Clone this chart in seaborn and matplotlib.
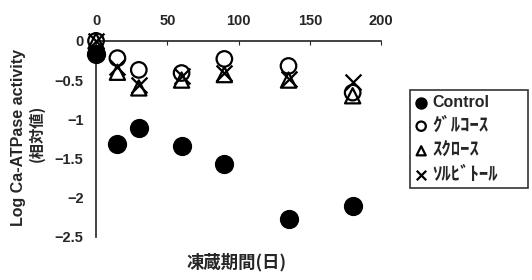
import matplotlib
matplotlib.use("Agg")
import matplotlib.pyplot as plt
import seaborn as sns

days = [0, 15, 30, 60, 90, 135, 180]
control = [-0.17, -1.31, -1.11, -1.34, -1.57, -2.27, -2.10]
glucose = [0, -0.22, -0.37, -0.41, -0.23, -0.32, -0.66]
sucrose = [0, -0.40, -0.60, -0.50, -0.43, -0.50, -0.70]
sorbitol = [0, -0.33, -0.56, -0.45, -0.41, -0.48, -0.53]
labels = ["Control", "ｸﾞﾙｺｰｽ", "ｽｸﾛｰｽ", "ｿﾙﾋﾞﾄｰﾙ"]
xticks = [0, 50, 100, 150, 200]
yticks = [0, -0.5, -1, -1.5, -2, -2.5]
ytick_labels = ["0", "−0.5", "−1", "−1.5", "−2", "−2.5"]

sns.set_style("white")
plt.rcParams["font.family"] = ["Liberation Sans", "Noto Sans CJK JP"]
plt.rcParams["font.weight"] = "bold"

fig = plt.figure(figsize=(5.32, 2.80), dpi=100)
ax = fig.add_axes([0.1805, 0.154, 0.536, 0.700])

series = [control, glucose, sucrose, sorbitol]
markers = ["o", "o", "^", "x"]
sizes = [150, 125, 120, 130]
faces = ["black", "none", "none", "black"]
for vals, lab, m, s, fc in zip(series, labels, markers, sizes, faces):
    sns.scatterplot(x=days, y=vals, marker=m, s=s, color="black",
                    facecolor=fc, edgecolor="black", linewidth=1.6,
                    clip_on=False, zorder=3, label=lab, ax=ax)

ax.set_xlim(0, 200)
ax.set_ylim(-2.5, 0)
ax.set_xticks(xticks)
ax.set_yticks(yticks)
ax.set_yticklabels(ytick_labels)
ax.xaxis.tick_top()
ax.tick_params(axis="x", direction="in", length=3, pad=9, labelsize=10.5)
ax.tick_params(axis="y", direction="in", length=3, pad=9, labelsize=10.5)
ax.spines["right"].set_visible(False)
ax.spines["bottom"].set_visible(False)
for sp in ["left", "top"]:
    ax.spines[sp].set_linewidth(1.2)
    ax.spines[sp].set_color("#222222")
ax.set_xlabel("")
ax.set_ylabel("")

# legend box: x 410..528, y 90..186 px
leg = ax.legend(loc="upper left",
                bbox_to_anchor=(410 / 532, 1 - 90 / 280 - 0.01, 118 / 532, 0.01),
                mode="expand", bbox_transform=fig.transFigure, frameon=True,
                fancybox=False, edgecolor="black", markerscale=0.6,
                fontsize=11.5, handlelength=0.8, handletextpad=0.3,
                labelspacing=0.35, borderpad=0.3, borderaxespad=0)
leg.get_frame().set_linewidth(1.2)
for t in leg.get_texts()[1:]:
    t.set_fontsize(13.5)
    t.set_family(["Noto Sans CJK JP"])

fig.text(19 / 532, 1 - 137 / 280, "Log Ca-ATPase activity", rotation=90,
         ha="center", va="center", fontsize=11.5, fontweight="bold")
fig.text(37 / 532, 1 - 133 / 280, "(相対値)", rotation=90,
         ha="center", va="center", fontsize=11, fontweight="bold",
         family=["Noto Sans CJK JP"])
fig.text(237 / 532, 1 - 262 / 280, "凍蔵期間(日)", ha="center", va="center",
         fontsize=12.5, fontweight="bold", family=["Noto Sans CJK JP"])

fig.savefig("out.png", dpi=100)
